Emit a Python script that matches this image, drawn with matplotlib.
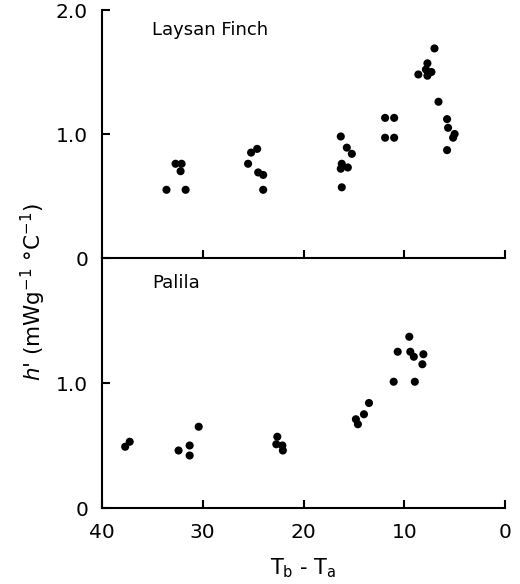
import matplotlib
matplotlib.use("Agg")
import matplotlib.pyplot as plt

# Laysan Finch (top panel)
finch_dt = [33.6, 32.7, 32.1, 32.2, 31.7,
            25.5, 25.2, 24.6, 24.5, 24.0, 24.0,
            16.3, 15.7, 15.2, 16.2, 15.6, 16.3, 16.2,
            11.9, 11.0, 11.9, 11.0,
            7.0, 7.7, 7.85, 7.3, 8.6, 7.7, 6.6, 5.75, 5.65, 5.0, 5.15, 5.75]
finch_h = [0.55, 0.76, 0.76, 0.70, 0.55,
           0.76, 0.85, 0.88, 0.69, 0.67, 0.55,
           0.98, 0.89, 0.84, 0.76, 0.73, 0.72, 0.57,
           1.13, 1.13, 0.97, 0.97,
           1.69, 1.57, 1.52, 1.50, 1.48, 1.47, 1.26, 1.12, 1.05, 1.00, 0.97, 0.87]

# Palila (bottom panel)
palila_dt = [37.7, 37.25, 32.4, 31.3, 31.3, 30.4,
             22.6, 22.7, 22.1, 22.05,
             14.8, 14.6, 14.0, 13.5,
             9.5, 10.65, 9.4, 9.05, 8.1, 8.2, 11.05, 8.95]
palila_h = [0.49, 0.53, 0.46, 0.50, 0.42, 0.65,
            0.57, 0.51, 0.50, 0.46,
            0.71, 0.67, 0.75, 0.84,
            1.37, 1.25, 1.25, 1.21, 1.23, 1.15, 1.01, 1.01]

x_ticks = [40, 30, 20, 10, 0]
x_ticklabels = ["40", "30", "20", "10", "0"]

plt.rcParams["font.family"] = "DejaVu Sans"

fig = plt.figure(figsize=(5.2, 5.84), dpi=100)
W, H = 520, 584
left, right = 102 / W, 505 / W
ax_top = fig.add_axes([left, 1 - 258 / H, right - left, 248 / H])
ax_bot = fig.add_axes([left, 1 - 508 / H, right - left, 250 / H])

for ax in (ax_top, ax_bot):
    ax.set_xlim(40, 0)
    ax.set_ylim(0, 2.0)
    for s in ("top", "right"):
        ax.spines[s].set_visible(False)
    for s in ("left", "bottom"):
        ax.spines[s].set_linewidth(1.5)
    ax.set_xticks(x_ticks)
    ax.tick_params(direction="in", length=5.5, width=1.5, labelsize=14.5)
    ax.tick_params(axis="y", pad=10)
    ax.tick_params(axis="x", pad=11)
    ax.patch.set_alpha(0)

ax_top.scatter(finch_dt, finch_h, s=34, color="black", edgecolors="none", clip_on=False)
ax_bot.scatter(palila_dt, palila_h, s=34, color="black", edgecolors="none", clip_on=False)

ax_top.set_yticks([0, 1.0, 2.0])
ax_top.set_yticklabels(["0", "1.0", "2.0"])
ax_top.set_xticklabels([])
ax_bot.set_yticks([0, 1.0])
ax_bot.set_yticklabels(["0", "1.0"])
ax_bot.set_xticklabels(x_ticklabels)

ax_top.text(35, 1.84, "Laysan Finch", fontsize=13, va="center", ha="left")
ax_bot.text(35, 1.80, "Palila", fontsize=13, va="center", ha="left")

ax_bot.set_xlabel(r"T$_\mathregular{b}$ - T$_\mathregular{a}$", fontsize=15, labelpad=10)
fig.text(33 / W, 1 - 292 / H, r"$h$' (mWg$^{-1}$ °C$^{-1}$)", rotation=90,
         fontsize=15.5, ha="center", va="center")

fig.savefig("out.png", dpi=100)
